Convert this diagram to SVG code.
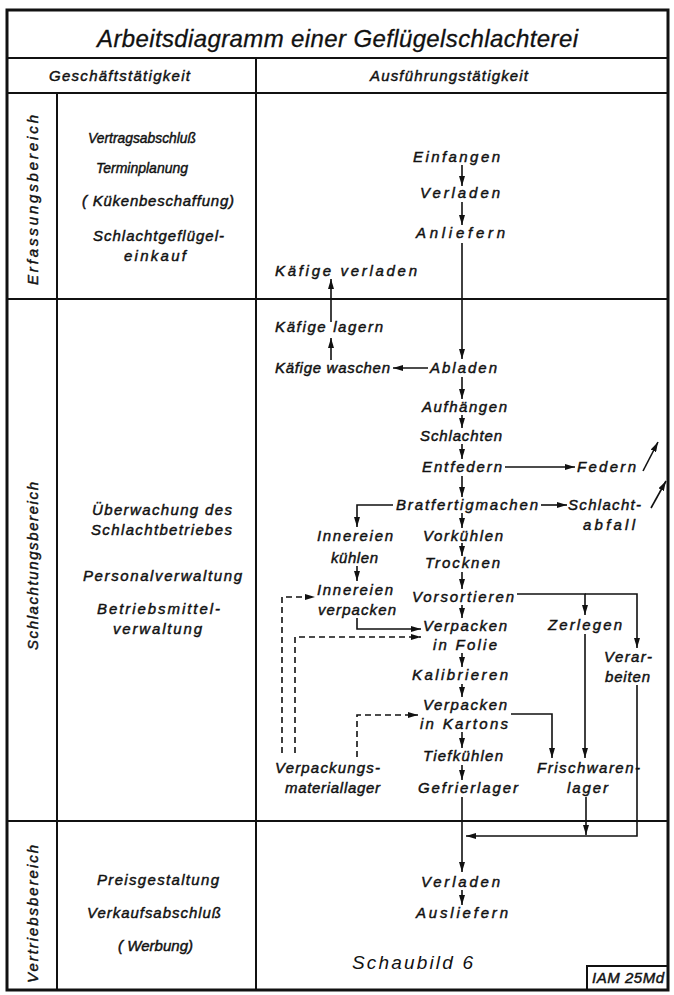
<svg xmlns="http://www.w3.org/2000/svg" width="674" height="995" viewBox="0 0 674 995">
<style>
.t{font-family:"Liberation Sans","DejaVu Sans",sans-serif;font-style:italic;font-size:15px;fill:#111;stroke:#111;stroke-width:0.45}
.title{font-family:"Liberation Sans","DejaVu Sans",sans-serif;font-style:italic;font-size:24px;fill:#111;stroke:#111;stroke-width:0.3}
.cap{font-family:"Liberation Sans","DejaVu Sans",sans-serif;font-style:italic;font-size:19px;fill:#111}
.grid{stroke:#111;stroke-width:2;fill:none}
.frame{stroke:#111;stroke-width:3;fill:none}
.c{stroke:#111;stroke-width:1.6;fill:none}
.d{stroke:#111;stroke-width:1.6;fill:none;stroke-dasharray:6 4}
</style>
<defs>
<marker id="a" viewBox="0 0 10 6" refX="10" refY="3" markerWidth="10" markerHeight="6" markerUnits="userSpaceOnUse" orient="auto">
<path d="M0,0 L10,3 L0,6 Z" fill="#111"/>
</marker>
</defs>
<rect width="674" height="995" fill="#fff"/>
<g id="frame">
<rect class="frame" x="7" y="10" width="661" height="980"/>
<line class="grid" x1="7" y1="58" x2="668" y2="58"/>
<line class="grid" x1="7" y1="93" x2="668" y2="93"/>
<line class="grid" x1="256" y1="58" x2="256" y2="990"/>
<line class="grid" x1="57" y1="93" x2="57" y2="990"/>
<line class="grid" x1="7" y1="299" x2="668" y2="299"/>
<line class="grid" x1="7" y1="821" x2="668" y2="821"/>
<rect class="grid" x="587" y="966" width="81" height="24"/>
</g>
<g id="headers">
<text class="title" x="97" y="47" textLength="481" lengthAdjust="spacing">Arbeitsdiagramm einer Geflügelschlachterei</text>
<text class="t" x="49" y="81" textLength="141" lengthAdjust="spacing">Geschäftstätigkeit</text>
<text class="t" x="370" y="81" textLength="158" lengthAdjust="spacing">Ausführungstätigkeit</text>
</g>
<g id="bereiche">
<text class="t" transform="translate(38,200) rotate(-90)" text-anchor="middle" textLength="170" lengthAdjust="spacing">Erfassungsbereich</text>
<text class="t" transform="translate(38,566) rotate(-90)" text-anchor="middle" textLength="168" lengthAdjust="spacing">Schlachtungsbereich</text>
<text class="t" transform="translate(38,914) rotate(-90)" text-anchor="middle" textLength="138" lengthAdjust="spacing">Vertriebsbereich</text>
</g>
<g id="geschaeft">
<text class="t" x="88" y="143" textLength="108" lengthAdjust="spacingAndGlyphs">Vertragsabschluß</text>
<text class="t" x="96" y="173" textLength="92" lengthAdjust="spacingAndGlyphs">Terminplanung</text>
<text class="t" x="82" y="206" textLength="152" lengthAdjust="spacing">( Kükenbeschaffung)</text>
<text class="t" x="93" y="241" textLength="131" lengthAdjust="spacing">Schlachtgeflügel-</text>
<text class="t" x="124" y="261" textLength="62" lengthAdjust="spacing">einkauf</text>
<text class="t" x="92" y="515" textLength="140" lengthAdjust="spacing">Überwachung des</text>
<text class="t" x="91" y="535" textLength="141" lengthAdjust="spacing">Schlachtbetriebes</text>
<text class="t" x="83" y="581" textLength="159" lengthAdjust="spacing">Personalverwaltung</text>
<text class="t" x="97" y="614" textLength="123" lengthAdjust="spacing">Betriebsmittel-</text>
<text class="t" x="113" y="634" textLength="89" lengthAdjust="spacing">verwaltung</text>
<text class="t" x="97" y="885" textLength="122" lengthAdjust="spacing">Preisgestaltung</text>
<text class="t" x="87" y="918" textLength="134" lengthAdjust="spacing">Verkaufsabschluß</text>
<text class="t" x="118" y="951" textLength="75" lengthAdjust="spacing">( Werbung)</text>
</g>
<g id="n-einfangen"><text class="t" x="413" y="162" textLength="87" lengthAdjust="spacing">Einfangen</text></g>
<g id="n-verladen1"><text class="t" x="420" y="198" textLength="80" lengthAdjust="spacing">Verladen</text></g>
<g id="n-anliefern"><text class="t" x="416" y="238" textLength="89" lengthAdjust="spacing">Anliefern</text></g>
<g id="n-kaefige-verladen"><text class="t" x="275" y="276" textLength="142" lengthAdjust="spacing">Käfige verladen</text></g>
<g id="n-kaefige-lagern"><text class="t" x="275" y="332" textLength="108" lengthAdjust="spacing">Käfige lagern</text></g>
<g id="n-kaefige-waschen"><text class="t" x="275" y="373" textLength="115" lengthAdjust="spacing">Käfige waschen</text></g>
<g id="n-abladen"><text class="t" x="430" y="373" textLength="67" lengthAdjust="spacing">Abladen</text></g>
<g id="n-aufhaengen"><text class="t" x="422" y="412" textLength="85" lengthAdjust="spacing">Aufhängen</text></g>
<g id="n-schlachten"><text class="t" x="420" y="441" textLength="82" lengthAdjust="spacing">Schlachten</text></g>
<g id="n-entfedern"><text class="t" x="422" y="472" textLength="80" lengthAdjust="spacing">Entfedern</text></g>
<g id="n-federn"><text class="t" x="577" y="472" textLength="59" lengthAdjust="spacing">Federn</text></g>
<g id="n-bratfertig"><text class="t" x="396" y="510" textLength="142" lengthAdjust="spacing">Bratfertigmachen</text></g>
<g id="n-schlachtabfall">
<text class="t" x="568" y="510" textLength="73" lengthAdjust="spacing">Schlacht-</text>
<text class="t" x="583" y="530" textLength="52" lengthAdjust="spacing">abfall</text>
</g>
<g id="n-innereien-kuehlen">
<text class="t" x="317" y="541" textLength="76" lengthAdjust="spacing">Innereien</text>
<text class="t" x="331" y="563" textLength="47" lengthAdjust="spacing">kühlen</text>
</g>
<g id="n-vorkuehlen"><text class="t" x="423" y="541" textLength="80" lengthAdjust="spacing">Vorkühlen</text></g>
<g id="n-trocknen"><text class="t" x="425" y="568" textLength="75" lengthAdjust="spacing">Trocknen</text></g>
<g id="n-innereien-verpacken">
<text class="t" x="317" y="595" textLength="76" lengthAdjust="spacing">Innereien</text>
<text class="t" x="318" y="615" textLength="78" lengthAdjust="spacing">verpacken</text>
</g>
<g id="n-vorsortieren"><text class="t" x="412" y="602" textLength="102" lengthAdjust="spacing">Vorsortieren</text></g>
<g id="n-verpacken-folie">
<text class="t" x="423" y="631" textLength="84" lengthAdjust="spacing">Verpacken</text>
<text class="t" x="433" y="650" textLength="64" lengthAdjust="spacing">in Folie</text>
</g>
<g id="n-zerlegen"><text class="t" x="548" y="630" textLength="74" lengthAdjust="spacing">Zerlegen</text></g>
<g id="n-verarbeiten">
<text class="t" x="604" y="662" textLength="48" lengthAdjust="spacing">Verar-</text>
<text class="t" x="605" y="682" textLength="45" lengthAdjust="spacing">beiten</text>
</g>
<g id="n-kalibrieren"><text class="t" x="412" y="680" textLength="96" lengthAdjust="spacing">Kalibrieren</text></g>
<g id="n-verpacken-kartons">
<text class="t" x="423" y="710" textLength="84" lengthAdjust="spacing">Verpacken</text>
<text class="t" x="420" y="729" textLength="88" lengthAdjust="spacing">in Kartons</text>
</g>
<g id="n-tiefkuehlen"><text class="t" x="423" y="761" textLength="80" lengthAdjust="spacing">Tiefkühlen</text></g>
<g id="n-verpackungsmaterial">
<text class="t" x="275" y="773" textLength="105" lengthAdjust="spacing">Verpackungs-</text>
<text class="t" x="285" y="793" textLength="95" lengthAdjust="spacing">materiallager</text>
</g>
<g id="n-gefrierlager"><text class="t" x="418" y="793" textLength="100" lengthAdjust="spacing">Gefrierlager</text></g>
<g id="n-frischwaren">
<text class="t" x="537" y="773" textLength="103" lengthAdjust="spacing">Frischwaren-</text>
<text class="t" x="567" y="793" textLength="41" lengthAdjust="spacing">lager</text>
</g>
<g id="n-verladen2"><text class="t" x="421" y="887" textLength="79" lengthAdjust="spacing">Verladen</text></g>
<g id="n-ausliefern"><text class="t" x="416" y="918" textLength="92" lengthAdjust="spacing">Ausliefern</text></g>
<g id="caption">
<text class="cap" x="352" y="969" textLength="121" lengthAdjust="spacing">Schaubild  6</text>
<text class="t" x="592" y="983" textLength="72" lengthAdjust="spacing">IAM 25Md</text>
</g>
<g id="connectors" marker-end="url(#a)">
<path class="c" d="M462,165 V186"/>
<path class="c" d="M462,202 V225"/>
<path class="c" d="M462,243 V359"/>
<path class="c" d="M428,368 H393"/>
<path class="c" d="M331,360 V338"/>
<path class="c" d="M331,322 V279"/>
<path class="c" d="M462,377 V399"/>
<path class="c" d="M462,415 V428"/>
<path class="c" d="M462,444 V459"/>
<path class="c" d="M505,467 H575"/>
<path class="c" d="M643,471 L658,442"/>
<path class="c" d="M462,476 V497"/>
<path class="c" d="M541,505 H567"/>
<path class="c" d="M651,508 L666,481"/>
<path class="c" d="M393,505 H357 V527"/>
<path class="c" d="M462,513 V528"/>
<path class="c" d="M462,543 V556"/>
<path class="c" d="M357,566 V581"/>
<path class="c" d="M462,572 V589"/>
<path class="c" d="M462,605 V618"/>
<path class="c" d="M357,618 V629 H421"/>
<path class="c" d="M517,594 H585 V615"/>
<path class="c" d="M585,594 H637 V648"/>
<path class="c" d="M462,653 V667"/>
<path class="c" d="M462,684 V697"/>
<path class="c" d="M462,732 V748"/>
<path class="c" d="M462,765 V780"/>
<path class="c" d="M511,714 H552 V758"/>
<path class="c" d="M585,634 V758"/>
<path class="c" d="M637,685 V836 H466"/>
<path class="c" d="M586,797 V835"/>
<path class="c" d="M462,797 V872"/>
<path class="c" d="M462,890 V905"/>
<path class="d" d="M282,753 V597 H315"/>
<path class="d" d="M295,753 V637 H421"/>
<path class="d" d="M357,757 V715 H418"/>
</g>
</svg>
